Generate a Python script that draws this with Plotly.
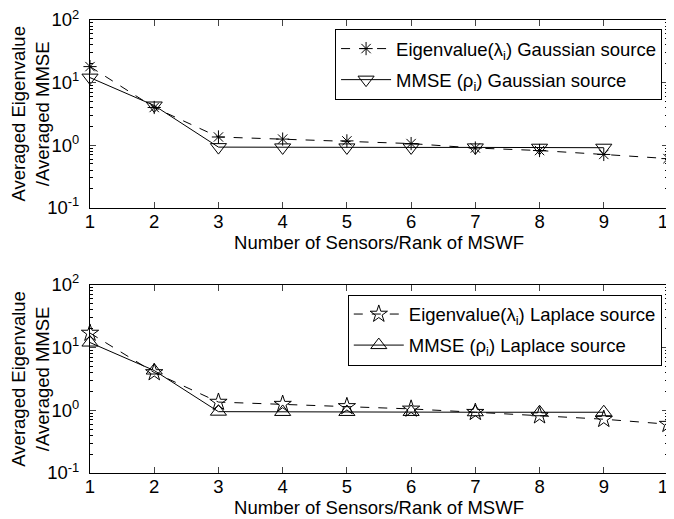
import plotly.graph_objects as go

x_eig = [1, 2, 3, 4, 5, 6, 7, 8, 9, 10]
x_mmse = [1, 2, 3, 4, 5, 6, 7, 8, 9]

gauss_eig = [18.0, 4.0, 1.35, 1.25, 1.17, 1.06, 0.90, 0.82, 0.71, 0.61]
gauss_mmse = [12.0, 4.3, 0.93, 0.92, 0.92, 0.92, 0.92, 0.91, 0.91]

lap_eig = [17.0, 4.0, 1.35, 1.25, 1.15, 1.05, 0.93, 0.82, 0.72, 0.60]
lap_mmse = [12.0, 4.3, 0.95, 0.94, 0.94, 0.94, 0.93, 0.93, 0.93]

names_top = ["Eigenvalue(λ<sub>i</sub>) Gaussian source", "MMSE (ρ<sub>i</sub>) Gaussian source"]
names_bot = ["Eigenvalue(λ<sub>i</sub>) Laplace source", "MMSE (ρ<sub>i</sub>) Laplace source"]
x_title = "Number of Sensors/Rank of MSWF"
y_title = "Averaged Eigenvalue<br>/Averaged MMSE"
y_tickvals = [0.1, 1, 10, 100]
y_ticktext = ["10<sup>-1</sup>", "10<sup>0</sup>", "10<sup>1</sup>", "10<sup>2</sup>"]

minor_vals = [m * 10 ** e for e in (-1, 0, 1) for m in range(2, 10)]

FONT = "Liberation Sans, Arial, sans-serif"
FS = 18.5
fig = go.Figure()

def add(x, y, name, dash, symbol, size, xa, ya, legend, group):
    fig.add_trace(go.Scatter(
        x=x, y=y, name=name, mode="lines+markers", cliponaxis=False,
        line=dict(color="black", width=1, dash=dash),
        marker=dict(symbol=symbol, size=size, color="black",
                    line=dict(color="black", width=1)),
        xaxis=xa, yaxis=ya, legend=legend, legendgroup=group))

add(x_eig, gauss_eig, names_top[0], "dash", "asterisk-open", 11, "x", "y", "legend", "a")
add(x_mmse, gauss_mmse, names_top[1], "solid", "triangle-down-open", 14, "x", "y", "legend", "b")
add(x_eig, lap_eig, names_bot[0], "dash", "star-open", 13, "x2", "y2", "legend2", "c")
add(x_mmse, lap_mmse, names_bot[1], "solid", "triangle-up-open", 14, "x2", "y2", "legend2", "d")

xax = dict(range=[1, 10], tickvals=list(range(1, 11)), ticks="inside", ticklen=6,
           showline=True, linecolor="black", linewidth=1, mirror="ticks", automargin=False,
           ticklabeloverflow="allow", ticklabelstandoff=-3,
           showgrid=False, zeroline=False, tickfont=dict(size=FS, color="black"),
           title=dict(text=x_title, font=dict(size=FS, color="black"), standoff=4))
yax = dict(type="log", range=[-1, 2], tickvals=y_tickvals, ticktext=y_ticktext,
           ticks="inside", ticklen=6, automargin=False, ticklabelstandoff=6,
           ticklabeloverflow="allow",
           showline=True, linecolor="black", linewidth=1, mirror="ticks",
           showgrid=False, zeroline=False, tickfont=dict(size=FS, color="black"),
           minor=dict(tickvals=minor_vals, ticks="inside", ticklen=3, tickcolor="black", showgrid=False),
           title=dict(text=y_title, font=dict(size=FS, color="black"), standoff=2))

leg = dict(bgcolor="white", bordercolor="black", borderwidth=1, tracegroupgap=4, itemwidth=50,
           font=dict(size=FS, color="black", family=FONT), xanchor="left", yanchor="top")

fig.update_layout(
    width=666, height=511,
    margin=dict(l=82, r=6, t=12, b=46),
    paper_bgcolor="white", plot_bgcolor="white",
    font=dict(family=FONT, color="black"),
    xaxis=dict(domain=[0, 1], anchor="y", **xax),
    yaxis=dict(domain=[0.5856, 1], anchor="x", **yax),
    xaxis2=dict(domain=[0, 1], anchor="y2", **xax),
    yaxis2=dict(domain=[0, 0.4155], anchor="x2", **yax),
    legend=dict(x=0.424, y=0.98, **leg),
    legend2=dict(x=0.446, y=0.394, **leg),
    showlegend=True,
)

fig.write_html("out.html")
